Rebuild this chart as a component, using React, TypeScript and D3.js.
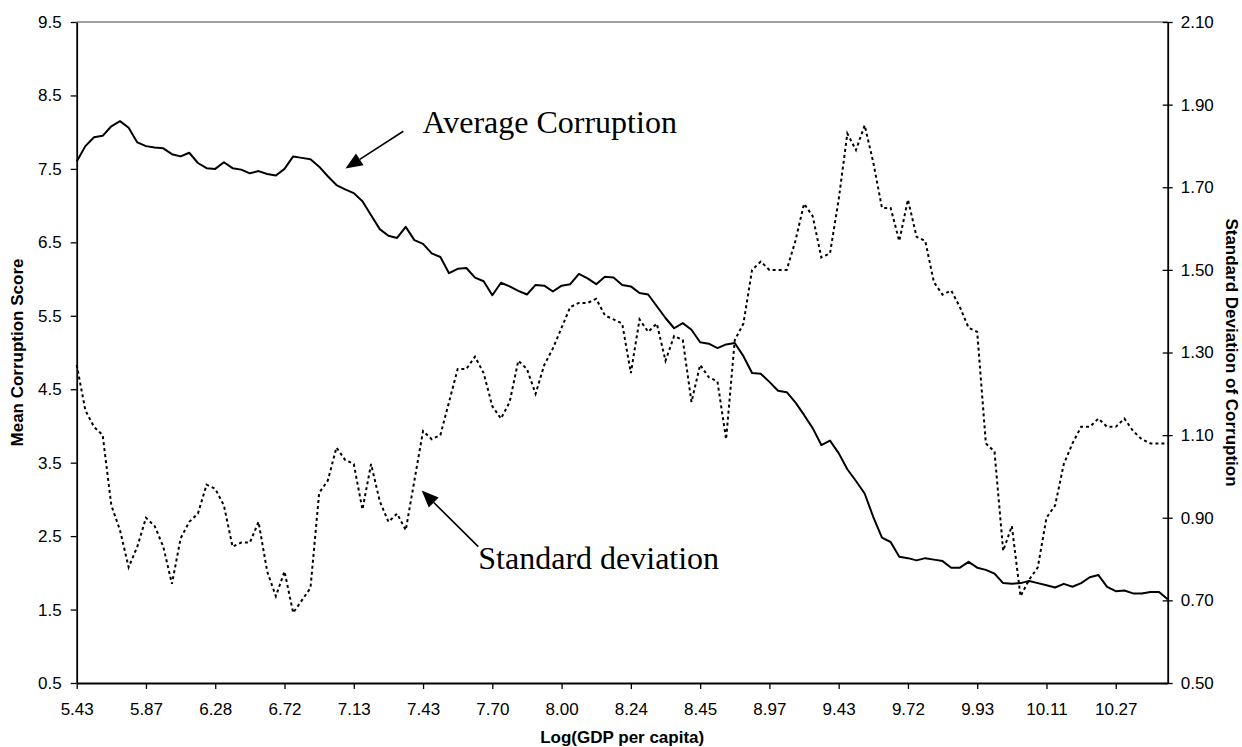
import React, { useEffect, useRef } from 'react';
import * as d3 from 'd3';

// category labels shown every POINTS_PER_LABEL points on the x axis
const xTickLabels = ['5.43', '5.87', '6.28', '6.72', '7.13', '7.43', '7.70', '8.00', '8.24', '8.45', '8.97', '9.43', '9.72', '9.93', '10.11', '10.27'];
const POINTS_PER_LABEL = 8;

const leftTicks = [0.5, 1.5, 2.5, 3.5, 4.5, 5.5, 6.5, 7.5, 8.5, 9.5];
const rightTicks = [0.5, 0.7, 0.9, 1.1, 1.3, 1.5, 1.7, 1.9, 2.1];

// Mean corruption score (left axis)
const meanCorruption = [
  7.60, 7.81, 7.93, 7.95, 8.08, 8.15, 8.06, 7.86, 7.81, 7.79,
  7.78, 7.70, 7.67, 7.72, 7.58, 7.51, 7.50, 7.59, 7.51, 7.49,
  7.44, 7.47, 7.43, 7.41, 7.50, 7.67, 7.65, 7.63, 7.53, 7.40,
  7.28, 7.22, 7.17, 7.06, 6.87, 6.68, 6.59, 6.56, 6.71, 6.53,
  6.48, 6.35, 6.30, 6.08, 6.14, 6.15, 6.02, 5.97, 5.78, 5.95,
  5.90, 5.84, 5.79, 5.92, 5.91, 5.83, 5.91, 5.93, 6.07, 6.01,
  5.93, 6.03, 6.02, 5.92, 5.90, 5.81, 5.79, 5.63, 5.47, 5.33,
  5.40, 5.31, 5.14, 5.12, 5.06, 5.11, 5.13, 4.95, 4.72, 4.71,
  4.60, 4.48, 4.46, 4.32, 4.15, 3.97, 3.74, 3.80, 3.63, 3.41,
  3.25, 3.08, 2.76, 2.48, 2.42, 2.22, 2.20, 2.17, 2.20, 2.18,
  2.16, 2.07, 2.07, 2.15, 2.07, 2.04, 1.99, 1.86, 1.85, 1.86,
  1.89, 1.86, 1.83, 1.80, 1.85, 1.81, 1.86, 1.94, 1.97, 1.81,
  1.75, 1.76, 1.72, 1.72, 1.74, 1.74, 1.64,
];

// Standard deviation of corruption (right axis)
const stdCorruption = [
  1.27, 1.16, 1.12, 1.10, 0.93, 0.87, 0.78, 0.83, 0.90, 0.88,
  0.83, 0.74, 0.85, 0.89, 0.91, 0.98, 0.97, 0.93, 0.83, 0.84,
  0.84, 0.89, 0.77, 0.71, 0.77, 0.67, 0.70, 0.73, 0.96, 0.99,
  1.07, 1.04, 1.03, 0.92, 1.03, 0.94, 0.89, 0.91, 0.87, 0.99,
  1.11, 1.09, 1.10, 1.18, 1.26, 1.26, 1.29, 1.25, 1.17, 1.14,
  1.18, 1.28, 1.26, 1.20, 1.27, 1.31, 1.36, 1.41, 1.42, 1.42,
  1.43, 1.39, 1.38, 1.37, 1.25, 1.38, 1.35, 1.37, 1.28, 1.34,
  1.33, 1.18, 1.27, 1.24, 1.23, 1.09, 1.33, 1.37, 1.50, 1.52,
  1.50, 1.50, 1.50, 1.57, 1.66, 1.63, 1.53, 1.54, 1.67, 1.83,
  1.79, 1.85, 1.76, 1.65, 1.65, 1.57, 1.67, 1.58, 1.57, 1.47,
  1.44, 1.45, 1.41, 1.36, 1.35, 1.08, 1.06, 0.82, 0.88, 0.71,
  0.75, 0.78, 0.90, 0.93, 1.03, 1.08, 1.12, 1.12, 1.14, 1.12,
  1.12, 1.14, 1.11, 1.09, 1.08, 1.08, 1.08,
];

const SANS = '"Liberation Sans", Arial, sans-serif';
const SERIF = '"Liberation Serif", "Times New Roman", serif';

const App: React.FC = () => {
  const svgRef = useRef<SVGSVGElement>(null);

  useEffect(() => {
    if (!svgRef.current) return;
    const svg = d3.select(svgRef.current);
    svg.selectAll('*').remove();

    const width = 1242;
    const height = 747;
    const margin = { top: 22, right: 74.3, bottom: 64, left: 76.7 };
    const plotBottom = height - margin.bottom;
    const plotRight = width - margin.right;

    const x = d3.scaleLinear()
      .domain([0, meanCorruption.length - 1])
      .range([margin.left, plotRight]);
    const yLeft = d3.scaleLinear().domain([0.5, 9.5]).range([plotBottom, margin.top]);
    const yRight = d3.scaleLinear().domain([0.5, 2.1]).range([plotBottom, margin.top]);

    // top border of plot area
    svg.append('line')
      .attr('x1', margin.left).attr('x2', plotRight)
      .attr('y1', margin.top).attr('y2', margin.top)
      .attr('stroke', '#808080').attr('stroke-width', 1.5);

    // Left axis
    const gl = svg.append('g')
      .attr('transform', `translate(${margin.left},0)`)
      .call(d3.axisLeft(yLeft).tickValues(leftTicks).tickFormat(d3.format('.1f'))
        .tickSize(6).tickSizeOuter(0).tickPadding(9));

    // Right axis (ticks cross the line)
    const gr = svg.append('g')
      .attr('transform', `translate(${plotRight},0)`)
      .call(d3.axisRight(yRight).tickValues(rightTicks).tickFormat(d3.format('.2f'))
        .tickSize(5).tickSizeOuter(0).tickPadding(8));
    gr.selectAll('.tick line').attr('x1', -5);

    // Bottom axis with labels every POINTS_PER_LABEL points
    const tickIdx = xTickLabels.map((_, i) => i * POINTS_PER_LABEL);
    const gb = svg.append('g')
      .attr('transform', `translate(0,${plotBottom})`)
      .call(d3.axisBottom(x).tickValues(tickIdx)
        .tickFormat((d, i) => xTickLabels[i])
        .tickSize(6).tickSizeOuter(0).tickPadding(14));

    [gl, gr, gb].forEach(g => {
      g.select('.domain').attr('stroke', '#000').attr('stroke-width', 1.8);
      g.selectAll('.tick line').attr('stroke', '#000').attr('stroke-width', 1.3);
      g.selectAll('.tick text')
        .attr('fill', '#000')
        .style('font-family', SANS)
        .style('font-size', '17px');
    });

    // Series lines
    const meanLine = d3.line<number>().x((_, i) => x(i)).y(d => yLeft(d));
    const stdLine = d3.line<number>().x((_, i) => x(i)).y(d => yRight(d));

    svg.append('path')
      .datum(stdCorruption)
      .attr('d', stdLine)
      .attr('fill', 'none')
      .attr('stroke', '#000')
      .attr('stroke-width', 2)
      .attr('stroke-dasharray', '3,3');

    svg.append('path')
      .datum(meanCorruption)
      .attr('d', meanLine)
      .attr('fill', 'none')
      .attr('stroke', '#000')
      .attr('stroke-width', 2)
      .attr('stroke-linejoin', 'round');

    // Axis titles
    svg.append('text')
      .attr('transform', `translate(23,${(margin.top + plotBottom) / 2}) rotate(-90)`)
      .attr('text-anchor', 'middle')
      .style('font-family', SANS).style('font-size', '17px').style('font-weight', 'bold')
      .text('Mean Corruption Score');

    svg.append('text')
      .attr('transform', `translate(1226,${(margin.top + plotBottom) / 2}) rotate(90)`)
      .attr('text-anchor', 'middle')
      .style('font-family', SANS).style('font-size', '17px').style('font-weight', 'bold')
      .text('Standard Deviation of Corruption');

    svg.append('text')
      .attr('x', (margin.left + plotRight) / 2)
      .attr('y', 743)
      .attr('text-anchor', 'middle')
      .style('font-family', SANS).style('font-size', '17px').style('font-weight', 'bold')
      .text('Log(GDP per capita)');

    // Annotations with arrows
    const arrow = (x1: number, y1: number, x2: number, y2: number) => {
      const dx = x2 - x1, dy = y2 - y1;
      const len = Math.hypot(dx, dy);
      const ux = dx / len, uy = dy / len;
      const headLen = 17, headW = 7;
      const bx = x2 - ux * headLen, by = y2 - uy * headLen;
      svg.append('line')
        .attr('x1', x1).attr('y1', y1).attr('x2', bx).attr('y2', by)
        .attr('stroke', '#000').attr('stroke-width', 1.6);
      svg.append('polygon')
        .attr('points', [
          [x2, y2],
          [bx - uy * headW, by + ux * headW],
          [bx + uy * headW, by - ux * headW],
        ].map(p => p.join(',')).join(' '))
        .attr('fill', '#000');
    };

    arrow(x(37.72), yLeft(8.012), x(31.04), yLeft(7.505));
    svg.append('text')
      .attr('x', x(39.93)).attr('y', yLeft(7.991))
      .style('font-family', SERIF).style('font-size', '32px')
      .text('Average Corruption');

    arrow(x(46.38), yRight(0.830), x(39.84), yRight(0.966));
    svg.append('text')
      .attr('x', x(46.38)).attr('y', yRight(0.776))
      .style('font-family', SERIF).style('font-size', '32px')
      .text('Standard deviation');
  }, []);

  return (
    <svg
      ref={svgRef}
      width={1242}
      height={747}
      style={{ position: 'absolute', left: 0, top: 0, background: '#fff' }}
    />
  );
};

export default App;
